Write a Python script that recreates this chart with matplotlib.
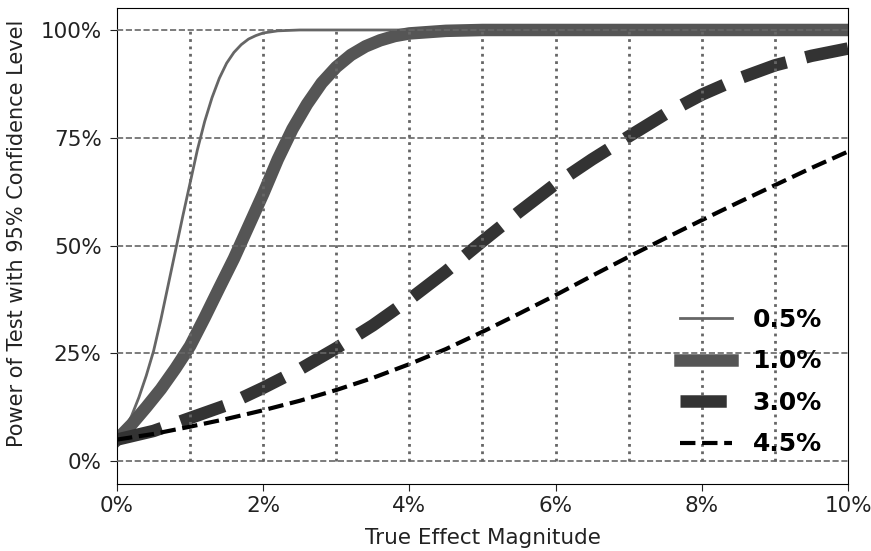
import matplotlib
matplotlib.use("Agg")
import matplotlib.pyplot as plt
from matplotlib.ticker import PercentFormatter, MultipleLocator

# true effect (in %) vs power
x_05 = [0.0, 0.1, 0.2, 0.3, 0.4, 0.5, 0.6, 0.7, 0.8, 0.9, 1.0, 1.1, 1.2, 1.3,
        1.4, 1.5, 1.6, 1.7, 1.8, 1.9, 2.0, 2.2, 2.5, 3.0, 4.0, 5.0, 6.0, 7.0,
        8.0, 9.0, 10.0]
p_05 = [0.050, 0.072, 0.105, 0.148, 0.198, 0.255, 0.328, 0.408, 0.488, 0.568,
        0.645, 0.722, 0.788, 0.843, 0.888, 0.923, 0.948, 0.966, 0.979, 0.987,
        0.993, 0.998, 1.0, 1.0, 1.0, 1.0, 1.0, 1.0, 1.0, 1.0, 1.0]

x_10 = [0.0, 0.2, 0.4, 0.6, 0.8, 1.0, 1.2, 1.4, 1.6, 1.8, 2.0, 2.2, 2.4, 2.6,
        2.8, 3.0, 3.2, 3.4, 3.6, 3.8, 4.0, 4.5, 5.0, 6.0, 7.0, 8.0, 9.0, 10.0]
p_10 = [0.050, 0.085, 0.125, 0.167, 0.215, 0.267, 0.333, 0.402, 0.470, 0.545,
        0.620, 0.700, 0.770, 0.828, 0.877, 0.914, 0.942, 0.962, 0.976, 0.986,
        0.992, 0.998, 1.0, 1.0, 1.0, 1.0, 1.0, 1.0]

x_30 = [0.0, 0.5, 1.0, 1.5, 2.0, 2.5, 3.0, 3.5, 4.0, 4.5, 5.0, 5.5, 6.0, 6.5,
        7.0, 7.5, 8.0, 8.5, 9.0, 9.5, 10.0]
p_30 = [0.050, 0.070, 0.100, 0.130, 0.170, 0.213, 0.262, 0.315, 0.375, 0.440,
        0.510, 0.578, 0.643, 0.700, 0.753, 0.805, 0.850, 0.887, 0.918, 0.940,
        0.957]

x_45 = [0.0, 0.5, 1.0, 1.5, 2.0, 2.5, 3.0, 3.5, 4.0, 4.5, 5.0, 5.5, 6.0, 6.5,
        7.0, 7.5, 8.0, 8.5, 9.0, 9.5, 10.0]
p_45 = [0.050, 0.063, 0.080, 0.098, 0.118, 0.140, 0.165, 0.193, 0.225, 0.260,
        0.300, 0.342, 0.385, 0.430, 0.474, 0.517, 0.559, 0.600, 0.640, 0.680,
        0.718]

labels = ["0.5%", "1.0%", "3.0%", "4.5%"]

fig = plt.figure(figsize=(8.71, 5.51), dpi=100)
ax = fig.add_axes([0.1343, 0.1216, 0.8393, 0.8639])

ax.plot(x_05, p_05, "-", color="#666666", lw=2, label=labels[0])
ax.plot(x_10, p_10, "-", color="#555555", lw=9, label=labels[1])
ax.plot(x_30, p_30, "--", color="#333333", lw=9, label=labels[2])
ax.plot(x_45, p_45, "--", color="black", lw=3, label=labels[3])

# reference lines on top of the curves
ax.hlines([0, 0.25, 0.5, 0.75, 1.0], 0, 10, colors="#666666", linestyles="--",
          lw=1.2, zorder=5)
ax.vlines(range(1, 10), 0, 1, colors="#666666", linestyles=":", lw=2, zorder=5)

ax.set_xlim(0, 10)
ax.set_ylim(-0.053, 1.051)
ax.xaxis.set_major_locator(MultipleLocator(2))
ax.yaxis.set_major_locator(MultipleLocator(0.25))
ax.xaxis.set_major_formatter(PercentFormatter(100, decimals=0))
ax.yaxis.set_major_formatter(PercentFormatter(1.0, decimals=0))
ax.tick_params(labelsize=15.5, length=5, color="#222222", labelcolor="#222222")
ax.tick_params(axis="y", pad=6)
ax.set_xlabel("True Effect Magnitude", fontsize=15.5, color="#222222",
              labelpad=9)
ax.set_ylabel("Power of Test with 95% Confidence Level", fontsize=15,
              color="#222222")
ax.yaxis.set_label_coords(-0.123, 0.526)

ax.legend(loc="lower right", frameon=False, prop={"weight": "bold", "size": 18},
          handlelength=2.1, labelspacing=0.7, handletextpad=0.8,
          bbox_to_anchor=(0.995, 0.011))

fig.savefig("out.png", dpi=100)
